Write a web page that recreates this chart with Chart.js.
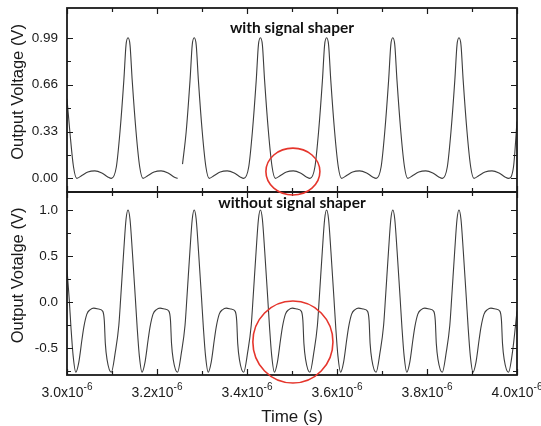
<!DOCTYPE html>
<html lang="en">
<head>
  <meta charset="UTF-8">
  <title>Output voltage with and without signal shaper</title>
  <script src="https://cdn.jsdelivr.net/npm/chart.js@4.4.3/dist/chart.umd.min.js"></script>
  <style>
    html, body { margin: 0; padding: 0; background: #fff; }
    #wrap { position: relative; width: 541px; height: 426px; }
    #wrap canvas { position: absolute; left: 0; top: 0; }
  </style>
</head>
<body>
  <div id="wrap">
    <canvas id="bottom-chart" width="541" height="426"></canvas>
    <canvas id="top-chart" width="541" height="426"></canvas>
  </div>

  <script>
    // time in units of 1e-6 s
    const topTime = [
      3.0000, 3.0063, 3.0145, 3.0218, 3.0329, 3.0463, 3.0618, 3.0774, 3.0907, 3.0987, 3.1096, 3.1178, 3.1263, 3.1312,
      3.1356, 3.1400, 3.1449, 3.1534, 3.1616, 3.1689, 3.1800, 3.1934, 3.2089, 3.2245, 3.2378, 3.2458, 3.2500, 3.2567, 3.2649, 3.2734, 3.2783,
      3.2827, 3.2871, 3.2920, 3.3005, 3.3087, 3.3160, 3.3271, 3.3405, 3.3560, 3.3716, 3.3849, 3.3929, 3.4038, 3.4120, 3.4205, 3.4254,
      3.4298, 3.4342, 3.4391, 3.4476, 3.4558, 3.4631, 3.4742, 3.4876, 3.5031, 3.5187, 3.5320, 3.5400, 3.5509, 3.5591, 3.5676, 3.5725,
      3.5769, 3.5813, 3.5862, 3.5947, 3.6029, 3.6102, 3.6213, 3.6347, 3.6502, 3.6658, 3.6791, 3.6871, 3.6980, 3.7062, 3.7147, 3.7196,
      3.7240, 3.7284, 3.7333, 3.7418, 3.7500, 3.7573, 3.7684, 3.7818, 3.7973, 3.8129, 3.8262, 3.8342, 3.8451, 3.8533, 3.8618, 3.8667,
      3.8711, 3.8755, 3.8804, 3.8889, 3.8971, 3.9044, 3.9155, 3.9289, 3.9444, 3.9600, 3.9733, 3.9813, 3.9922, 4.0000
    ];
    const topVolt = [
      0.56, 0.33, 0.08, 0.00, 0.02, 0.045, 0.053, 0.038, 0.01, 0.00, 0.08, 0.33, 0.69, 0.94,
      0.99, 0.94, 0.69, 0.33, 0.08, 0.00, 0.02, 0.045, 0.053, 0.038, 0.01, 0.00, null, 0.10, 0.33, 0.69, 0.94,
      0.99, 0.94, 0.69, 0.33, 0.08, 0.00, 0.02, 0.045, 0.053, 0.038, 0.01, 0.00, 0.08, 0.33, 0.69, 0.94,
      0.99, 0.94, 0.69, 0.33, 0.08, 0.00, 0.02, 0.045, 0.053, 0.038, 0.01, 0.00, 0.08, 0.33, 0.69, 0.94,
      0.99, 0.94, 0.69, 0.33, 0.08, 0.00, 0.02, 0.045, 0.053, 0.038, 0.01, 0.00, 0.08, 0.33, 0.69, 0.94,
      0.99, 0.94, 0.69, 0.33, 0.08, 0.00, 0.02, 0.045, 0.053, 0.038, 0.01, 0.00, 0.08, 0.33, 0.69, 0.94,
      0.99, 0.94, 0.69, 0.33, 0.08, 0.00, 0.02, 0.045, 0.053, 0.038, 0.01, 0.00, 0.08, 0.40
    ];

    const bottomTime = [
      3.0000, 3.0047, 3.0089, 3.0136, 3.0196, 3.0263, 3.0334, 3.0374, 3.0441, 3.0518, 3.0596, 3.0707, 3.0796, 3.0829, 3.0852, 3.0889, 3.0985, 3.1074, 3.1152, 3.1194, 3.1260, 3.1312,
      3.1356, 3.1400, 3.1452, 3.1518, 3.1560, 3.1607, 3.1667, 3.1734, 3.1805, 3.1845, 3.1912, 3.1989, 3.2067, 3.2178, 3.2267, 3.2300, 3.2323, 3.2360, 3.2456, 3.2545, 3.2623, 3.2665, 3.2731, 3.2783,
      3.2827, 3.2871, 3.2923, 3.2989, 3.3031, 3.3078, 3.3138, 3.3205, 3.3276, 3.3316, 3.3383, 3.3460, 3.3538, 3.3649, 3.3738, 3.3771, 3.3794, 3.3831, 3.3927, 3.4016, 3.4094, 3.4136, 3.4202, 3.4254,
      3.4298, 3.4342, 3.4394, 3.4460, 3.4502, 3.4549, 3.4609, 3.4676, 3.4747, 3.4787, 3.4854, 3.4931, 3.5009, 3.5120, 3.5209, 3.5242, 3.5265, 3.5302, 3.5398, 3.5487, 3.5565, 3.5607, 3.5673, 3.5725,
      3.5769, 3.5813, 3.5865, 3.5931, 3.5973, 3.6020, 3.6080, 3.6147, 3.6218, 3.6258, 3.6325, 3.6402, 3.6480, 3.6591, 3.6680, 3.6713, 3.6736, 3.6773, 3.6869, 3.6958, 3.7036, 3.7078, 3.7144, 3.7196,
      3.7240, 3.7284, 3.7336, 3.7402, 3.7444, 3.7491, 3.7551, 3.7618, 3.7689, 3.7729, 3.7796, 3.7873, 3.7951, 3.8062, 3.8151, 3.8184, 3.8207, 3.8244, 3.8340, 3.8429, 3.8507, 3.8549, 3.8615, 3.8667,
      3.8711, 3.8755, 3.8807, 3.8873, 3.8915, 3.8962, 3.9022, 3.9089, 3.9160, 3.9200, 3.9267, 3.9344, 3.9422, 3.9533, 3.9622, 3.9655, 3.9678, 3.9715, 3.9811, 3.9900, 4.0000
    ];
    const bottomVolt = [
      0.35, 0.05, -0.28, -0.58, -0.76, -0.65, -0.40, -0.27, -0.13, -0.08, -0.065, -0.075, -0.10, -0.20, -0.45, -0.62, -0.76, -0.54, -0.25, 0.05, 0.55, 0.90,
      1.00, 0.90, 0.55, 0.05, -0.28, -0.58, -0.76, -0.65, -0.40, -0.27, -0.13, -0.08, -0.065, -0.075, -0.10, -0.20, -0.45, -0.62, -0.76, -0.54, -0.25, 0.05, 0.55, 0.90,
      1.00, 0.90, 0.55, 0.05, -0.28, -0.58, -0.76, -0.65, -0.40, -0.27, -0.13, -0.08, -0.065, -0.075, -0.10, -0.20, -0.45, -0.62, -0.76, -0.54, -0.25, 0.05, 0.55, 0.90,
      1.00, 0.90, 0.55, 0.05, -0.28, -0.58, -0.76, -0.65, -0.40, -0.27, -0.13, -0.08, -0.065, -0.075, -0.10, -0.20, -0.45, -0.62, -0.76, -0.54, -0.25, 0.05, 0.55, 0.90,
      1.00, 0.90, 0.55, 0.05, -0.28, -0.58, -0.76, -0.65, -0.40, -0.27, -0.13, -0.08, -0.065, -0.075, -0.10, -0.20, -0.45, -0.62, -0.76, -0.54, -0.25, 0.05, 0.55, 0.90,
      1.00, 0.90, 0.55, 0.05, -0.28, -0.58, -0.76, -0.65, -0.40, -0.27, -0.13, -0.08, -0.065, -0.075, -0.10, -0.20, -0.45, -0.62, -0.76, -0.54, -0.25, 0.05, 0.55, 0.90,
      1.00, 0.90, 0.55, 0.05, -0.28, -0.58, -0.76, -0.65, -0.40, -0.27, -0.13, -0.08, -0.065, -0.075, -0.10, -0.20, -0.45, -0.62, -0.76, -0.54, -0.10
    ];

    const xTicks = [3.0, 3.2, 3.4, 3.6, 3.8, 4.0];
    const xMinorTicks = [3.1, 3.3, 3.5, 3.7, 3.9];
    const topYTicks = [0.00, 0.33, 0.66, 0.99];
    const topYLabels = ['0.00', '0.33', '0.66', '0.99'];
    const topYMinor = [0.165, 0.495, 0.825];
    const bottomYTicks = [-0.5, 0.0, 0.5, 1.0];
    const bottomYLabels = ['-0.5', '0.0', '0.5', '1.0'];
    const bottomYMinor = [-0.75, -0.25, 0.25, 0.75];

    const INK = '#1a1a1a';
    const TRACE = '#3d3d3d';
    const RED = '#e5352c';
    const TICK_FONT = '13.5px "Liberation Sans", Arial, sans-serif';
    const XTICK_FONT = '14px "Liberation Sans", Arial, sans-serif';
    const SUP_FONT = '10px "Liberation Sans", Arial, sans-serif';
    const TITLE_FONT = '16.5px "Liberation Sans", Arial, sans-serif';
    const NOTE_FONT = 'bold 15.5px Lato, "Open Sans", sans-serif';

    function toPoints(xs, ys) {
      return xs.map((t, i) => ({ x: t, y: ys[i] }));
    }

    function drawFrameAndTicks(chart, yMajor, yMinor) {
      const { ctx, chartArea: a, scales: { x, y } } = chart;
      ctx.strokeStyle = INK;
      ctx.lineWidth = 1.2;
      ctx.beginPath();
      const vTicks = (vals, len) => vals.forEach(v => {
        const px = Math.round(x.getPixelForValue(v)) + 0.5;
        ctx.moveTo(px, a.top); ctx.lineTo(px, a.top + len);
        ctx.moveTo(px, a.bottom); ctx.lineTo(px, a.bottom - len);
      });
      const hTicks = (vals, len) => vals.forEach(v => {
        const py = Math.round(y.getPixelForValue(v)) + 0.5;
        ctx.moveTo(a.left, py); ctx.lineTo(a.left + len, py);
        ctx.moveTo(a.right, py); ctx.lineTo(a.right - len, py);
      });
      vTicks(xTicks, 6); vTicks(xMinorTicks, 4);
      hTicks(yMajor, 6); hTicks(yMinor, 4);
      ctx.stroke();
      ctx.lineWidth = 1.8;
      ctx.strokeRect(a.left, a.top, a.right - a.left, a.bottom - a.top);
    }

    function drawYLabels(chart, vals, labels, title) {
      const { ctx, chartArea: a, scales: { y } } = chart;
      ctx.fillStyle = INK;
      ctx.font = TICK_FONT;
      ctx.textAlign = 'right';
      ctx.textBaseline = 'middle';
      vals.forEach((v, i) => ctx.fillText(labels[i], a.left - 9, y.getPixelForValue(v)));
      ctx.save();
      ctx.translate(18, (a.top + a.bottom) / 2 - 8);
      ctx.rotate(-Math.PI / 2);
      ctx.font = TITLE_FONT;
      ctx.textAlign = 'center';
      ctx.fillText(title, 0, 0);
      ctx.restore();
    }

    function drawNote(chart, note) {
      const { ctx, scales: { x, y } } = chart;
      ctx.fillStyle = '#111';
      ctx.font = NOTE_FONT;
      ctx.textAlign = 'left';
      ctx.textBaseline = 'middle';
      ctx.fillText(note.text, x.getPixelForValue(note.x), y.getPixelForValue(note.y));
      // red ring around the region of interest
      const cx = x.getPixelForValue(note.ring[0]);
      const cy = y.getPixelForValue(note.ring[1]);
      const rx = Math.abs(x.getPixelForValue(note.ring[0] + note.ring[2]) - cx);
      const ry = Math.abs(y.getPixelForValue(note.ring[1] + note.ring[3]) - cy);
      ctx.strokeStyle = RED;
      ctx.lineWidth = 1.6;
      ctx.beginPath();
      ctx.ellipse(cx, cy, rx, ry, 0, 0, Math.PI * 2);
      ctx.stroke();
    }

    function drawXLabels(chart) {
      const { ctx, chartArea: a, scales: { x } } = chart;
      ctx.fillStyle = INK;
      ctx.textBaseline = 'alphabetic';
      ctx.textAlign = 'left';
      xTicks.forEach(v => {
        const base = v.toFixed(1) + 'x10';
        const sup = '-6';
        ctx.font = XTICK_FONT;
        const wb = ctx.measureText(base).width;
        ctx.font = SUP_FONT;
        const ws = ctx.measureText(sup).width;
        const left = x.getPixelForValue(v) - (wb + ws) / 2;
        ctx.font = XTICK_FONT;
        ctx.fillText(base, left, a.bottom + 21.5);
        ctx.font = SUP_FONT;
        ctx.fillText(sup, left + wb, a.bottom + 14.5);
      });
      ctx.font = '17px "Liberation Sans", Arial, sans-serif';
      ctx.textAlign = 'center';
      ctx.fillText('Time (s)', (a.left + a.right) / 2, a.bottom + 47);
    }

    function panel(canvasId, points, yMin, yMax, padding, cfg) {
      return new Chart(document.getElementById(canvasId), {
        type: 'line',
        data: {
          datasets: [{
            data: points,
            borderColor: TRACE,
            borderWidth: 1.1,
            pointRadius: 0,
            fill: false,
            spanGaps: false,
            cubicInterpolationMode: 'monotone'
          }]
        },
        options: {
          responsive: false,
          animation: false,
          events: [],
          layout: { padding },
          plugins: { legend: { display: false }, tooltip: { enabled: false } },
          scales: {
            x: { type: 'linear', min: 3.0, max: 4.0, display: false },
            y: { type: 'linear', min: yMin, max: yMax, display: false }
          }
        },
        plugins: [{
          id: 'panelDecor',
          afterDraw(chart) {
            const ctx = chart.ctx;
            ctx.save();
            drawFrameAndTicks(chart, cfg.yTicks, cfg.yMinor);
            drawYLabels(chart, cfg.yTicks, cfg.yLabels, cfg.title);
            if (cfg.xLabels) drawXLabels(chart);
            drawNote(chart, cfg.note);
            ctx.restore();
          }
        }]
      });
    }

    panel('bottom-chart', toPoints(bottomTime, bottomVolt), -0.79, 1.195,
      { left: 67, right: 24, top: 192, bottom: 51 },
      {
        yTicks: bottomYTicks, yMinor: bottomYMinor, yLabels: bottomYLabels,
        title: 'Output Votalge (V)', xLabels: true,
        note: { text: 'without signal shaper', x: 3.336, y: 1.076, ring: [3.502, -0.432, 0.089, 0.445] }
      });

    panel('top-chart', toPoints(topTime, topVolt), -0.096, 1.2,
      { left: 67, right: 24, top: 8, bottom: 234 },
      {
        yTicks: topYTicks, yMinor: topYMinor, yLabels: topYLabels,
        title: 'Output Voltage (V)', xLabels: false,
        note: { text: 'with signal shaper', x: 3.362, y: 1.058, ring: [3.502, 0.048, 0.060, 0.165] }
      });
  </script>
</body>
</html>
